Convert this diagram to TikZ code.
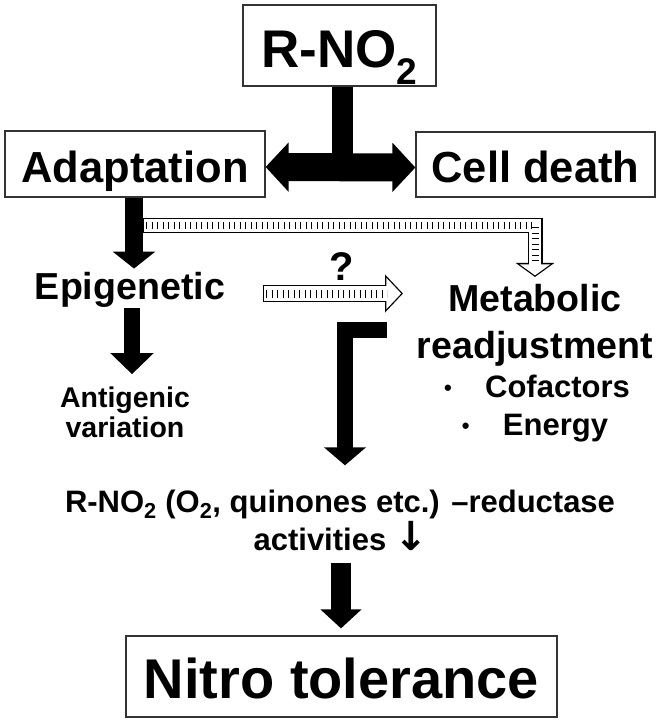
\documentclass[tikz,border=0pt]{standalone}
\usepackage{fontspec}
\setmainfont{Liberation Sans}
\newfontfamily\arrowfont{DejaVu Sans}
\usetikzlibrary{arrows.meta,calc}
\newcommand{\fsz}[1]{\fontsize{#1}{#1}\selectfont\bfseries}
\newcommand{\bulletbox}{\makebox[43pt][l]{\hspace{2pt}\raisebox{1.5pt}{\fontsize{22}{22}\selectfont •}}}

\begin{document}
\begin{tikzpicture}[
    x=1pt, y=-1pt,
    box/.style={draw=black!80, line width=1.2pt, inner sep=0pt, text depth=0pt},
    lbl/.style={anchor=base, inner sep=0pt},
    blk/.style={draw=black, line cap=butt, line join=miter},
    hollow/.style={line cap=butt, line join=miter},
    ticks/.style={line width=#1, dash pattern=on 1.2pt off 4.3pt}
]
    \useasboundingbox (0,0) rectangle (661,723);

    % boxes
    \node [box, minimum width=193pt, minimum height=81pt, text height=43pt, font=\fsz{53}] (rno2) at (339.5,45.5) {R-NO\textsubscript{2}};
    \node [box, minimum width=260pt, minimum height=66pt, text height=36pt, font=\fsz{43.5}] (adapt) at (135,164) {Adaptation};
    \node [box, minimum width=239pt, minimum height=65pt, text height=35pt, font=\fsz{43.5}] (death) at (535.5,164.5) {Cell death};
    \node [box, minimum width=431pt, minimum height=81pt, text height=43pt, font=\fsz{56}] (nitro) at (341.5,676.5) {Nitro tolerance};

    % labels
    \node [lbl, font=\fsz{37.6}] (epi) at (130,299) {Epigenetic};
    \node [lbl, font=\fsz{28.5}] (antig1) at (125,407) {Antigenic};
    \node [lbl, font=\fsz{28.5}] (antig2) at (125,437) {variation};
    \node [lbl, font=\fsz{40}] (q) at (342,280) {?};
    \node [lbl, font=\fsz{37.6}] (metab1) at (535,311) {Metabolic};
    \node [lbl, font=\fsz{37.6}] (metab2) at (535,358) {readjustment};
    \node [lbl, font=\fsz{31}] (cof) at (536,397) {\bulletbox Cofactors};
    \node [lbl, font=\fsz{31}] (energy) at (534,435) {\bulletbox Energy};
    \node [lbl, font=\fsz{31}] (reduc1) at (340,512) {R-NO\textsubscript{2} (O\textsubscript{2}, quinones etc.) –reductase};
    \node [lbl, font=\fsz{31}] (reduc2) at (341,550) {activities {\arrowfont\fontsize{40}{40}\selectfont ↓}};

    % R-NO2 splits to both sides
    \draw [blk, line width=21pt] ([xshift=2.5pt]rno2.south) -- ([xshift=2.5pt]rno2.south |- adapt.east);
    \draw [blk, line width=28pt, {Triangle[width=48pt,length=23pt]}-{Triangle[width=48pt,length=23pt]}] ([yshift=-3pt]adapt.east) -- ([yshift=-3pt]death.west);

    % left column
    \draw [blk, line width=18pt, shorten >=3pt, -{Triangle[width=42pt,length=17pt]}] ([xshift=-1pt]adapt.south) -- ([xshift=-1pt]adapt.south |- epi.north);
    \draw [blk, line width=16pt, shorten <=1pt, shorten >=12pt, -{Triangle[width=42pt,length=21pt]}] ([xshift=2pt]epi.south) -- ([xshift=2pt]epi.south |- antig1.north);

    % hollow arrow to metabolic readjustment
    \coordinate (hs) at ($(adapt.south)+(8,28)$);
    \draw [hollow, line width=15pt, shorten >=6.6pt, -{Triangle[width=38pt,length=14pt]}] (hs) -| (metab1.north);
    \draw [hollow, white, line width=12.4pt, shorten <=1.3pt, shorten >=8.2pt, -{Triangle[width=30pt,length=11pt]}] (hs) -| (metab1.north);
    \draw [hollow, ticks=7pt, shorten <=3pt, shorten >=22pt] (hs) -| (metab1.north);

    % hollow arrow with question mark
    \coordinate (qs) at (263,293.5);
    \coordinate (qe) at (403,293.5);
    \draw [hollow, line width=17pt, -{Triangle[width=37pt,length=18pt]}] (qs) -- (qe);
    \draw [hollow, white, line width=14.4pt, shorten <=1.3pt, shorten >=1.8pt, -{Triangle[width=30.6pt,length=14.9pt]}] (qs) -- (qe);
    \draw [hollow, ticks=8pt, shorten <=3pt, shorten >=16pt] (qs) -- (qe);

    % bent arrow down to the reductases
    \coordinate (bk) at (387,330);
    \draw [blk, line width=16pt, shorten >=24pt, -{Triangle[width=41pt,length=18pt]}] (bk) -| ([xshift=5pt]reduc1.north);

    % to nitro tolerance
    \draw [blk, line width=20pt, shorten <=13pt, shorten >=7pt, -{Triangle[width=40pt,length=19pt]}] (reduc2.base) -- (reduc2.base |- nitro.north);
\end{tikzpicture}
\end{document}
